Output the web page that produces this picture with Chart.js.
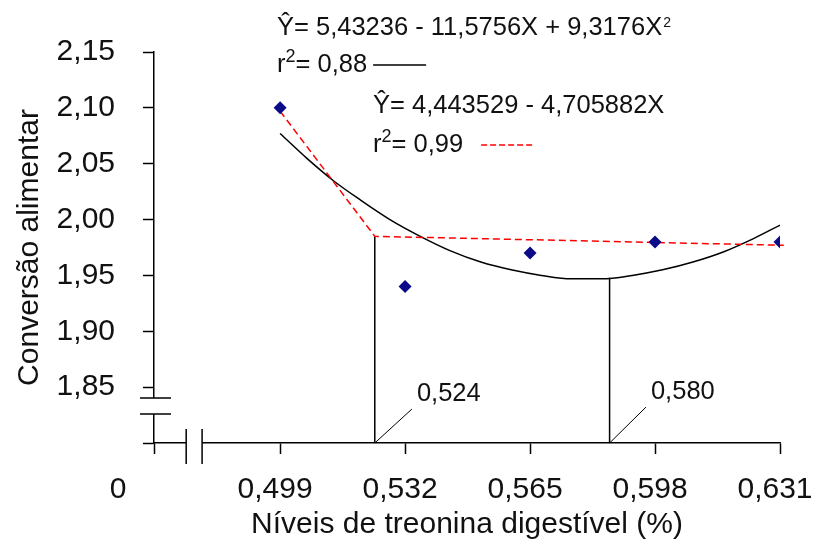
<!DOCTYPE html>
<html>
<head>
<meta charset="utf-8">
<script src="https://cdn.jsdelivr.net/npm/chart.js@4.4.0/dist/chart.umd.min.js"></script>
<style>
  body { margin: 0; background: #fff; }
  #chart { display: block; }
</style>
</head>
<body>
<canvas id="chart" width="817" height="544"></canvas>
<script>
// observed means
const levels = [0.499, 0.532, 0.565, 0.598, 0.631];
const conversion = [2.10, 1.94, 1.97, 1.98, 1.98];

// quadratic fit, values
const quadX = [0.499, 0.506, 0.513, 0.520, 0.528, 0.536, 0.544, 0.552, 0.560, 0.568, 0.576, 0.584, 0.592, 0.600, 0.608, 0.616, 0.624, 0.631];
const quadY = [2.077, 2.055, 2.035, 2.018, 2.000, 1.985, 1.972, 1.962, 1.955, 1.950, 1.947, 1.947, 1.950, 1.955, 1.962, 1.971, 1.983, 1.995];

// linear response plateau
const lrpX = [0.499, 0.524, 0.632];
const lrpY = [2.097, 1.985, 1.977];

// drop lines at the two estimates
const dropX = [0.524, 0.586];
const dropY = [1.985, 1.948];
const dropLabels = ['0,524', '0,580'];
// leader line ends
const leaderX = [0.5338, 0.5956];
const leaderY = [1.8304, 1.8321];

const xTicks = [0.4657, 0.499, 0.532, 0.565, 0.598, 0.631];
const xTickLabels = ['', '0,499', '0,532', '0,565', '0,598', '0,631'];
const yTicks = [1.80, 1.85, 1.90, 1.95, 2.00, 2.05, 2.10, 2.15];
const yTickLabels = ['', '1,85', '1,90', '1,95', '2,00', '2,05', '2,10', '2,15'];
const xBreak = [0.4742, 0.4784];
const yBreak = [1.8259, 1.8402];

// equation text, [text, superscript] pieces
const eqQuad = [['Ŷ= 5,43236 - 11,5756X + 9,3176X', 0], ['2', 1]];
const r2Quad = [['r', 0], ['2', 2], ['= 0,88', 0]];
const eqLin = [['Ŷ= 4,443529 - 4,705882X', 0]];
const r2Lin = [['r', 0], ['2', 2], ['= 0,99', 0]];

const FONT = '"Liberation Sans", Arial, sans-serif';
const xy = (xs, ys) => xs.map((v, i) => ({x: v, y: ys[i]}));

const baseY = yTicks[0];
const dropData = [];
dropX.forEach((v, i) => { dropData.push({x: v, y: baseY}, {x: v, y: dropY[i]}, {x: NaN, y: NaN}); });
const leaderData = [];
dropX.forEach((v, i) => { leaderData.push({x: v, y: baseY}, {x: leaderX[i], y: leaderY[i]}, {x: NaN, y: NaN}); });

// draws text with superscripts, returns the end x
function richText(ctx, parts, x, y) {
  parts.forEach(([t, sup]) => {
    if (sup === 1) { ctx.font = '14px ' + FONT; ctx.fillText(t, x + 1, y - 8); }
    else if (sup === 2) { ctx.font = '18px ' + FONT; ctx.fillText(t, x, y - 10); }
    else { ctx.font = '25.5px ' + FONT; ctx.fillText(t, x, y); }
    x += ctx.measureText(t).width + (sup === 1 ? 1 : 0);
  });
  return x;
}

const extras = {
  id: 'extras',
  afterDraw(chart) {
    const {ctx, scales: {x, y}} = chart;
    const ax = x.getPixelForValue(xTicks[0]);
    const ay = y.getPixelForValue(yTicks[0]);
    ctx.save();
    // axis breaks
    const yb0 = y.getPixelForValue(yBreak[1]), yb1 = y.getPixelForValue(yBreak[0]);
    const xb0 = x.getPixelForValue(xBreak[0]), xb1 = x.getPixelForValue(xBreak[1]);
    ctx.fillStyle = '#fff';
    ctx.fillRect(ax - 3, yb0, 6, yb1 - yb0);
    ctx.fillRect(xb0, ay - 3, xb1 - xb0, 6);
    ctx.strokeStyle = '#000';
    ctx.lineWidth = 1.5;
    ctx.beginPath();
    [yb0, yb1].forEach(py => { ctx.moveTo(ax - 14, py); ctx.lineTo(ax + 17, py); });
    [xb0, xb1].forEach(px => { ctx.moveTo(px, ay - 14); ctx.lineTo(px, ay + 21); });
    ctx.stroke();

    ctx.fillStyle = '#111';
    // origin label
    ctx.font = '30px ' + FONT;
    ctx.textAlign = 'center';
    ctx.textBaseline = 'middle';
    ctx.fillText('0', ax - 36, 490);

    // estimate labels
    ctx.font = '25.5px ' + FONT;
    ctx.textAlign = 'left';
    dropLabels.forEach((t, i) => {
      ctx.fillText(t, x.getPixelForValue(leaderX[i]) + 5, y.getPixelForValue(leaderY[i]) - 15);
    });

    // equations
    ctx.textBaseline = 'alphabetic';
    richText(ctx, eqQuad, 277, 35);
    let end = richText(ctx, r2Quad, 277, 72);
    richText(ctx, eqLin, 373, 113);
    const end2 = richText(ctx, r2Lin, 373, 152);
    ctx.lineWidth = 1.5;
    ctx.beginPath();
    ctx.moveTo(end + 6, 65); ctx.lineTo(end + 59, 65);
    ctx.stroke();
    ctx.strokeStyle = '#ff0000';
    ctx.setLineDash([6, 3]);
    ctx.beginPath();
    ctx.moveTo(end2 + 18, 145); ctx.lineTo(end2 + 71, 145);
    ctx.stroke();
    ctx.restore();
  }
};

new Chart(document.getElementById('chart'), {
  type: 'scatter',
  data: {
    datasets: [
      {
        data: xy(levels, conversion),
        pointStyle: 'rectRot',
        pointRadius: 6.5,
        backgroundColor: '#0b0b8a',
        borderColor: '#0b0b8a',
        borderWidth: 0
      },
      {
        data: xy(lrpX, lrpY),
        showLine: true,
        borderColor: '#ff0000',
        borderWidth: 1.5,
        borderDash: [7, 4],
        pointRadius: 0,
        clip: false
      },
      {
        data: xy(quadX, quadY),
        showLine: true,
        borderColor: '#000',
        borderWidth: 1.5,
        cubicInterpolationMode: 'monotone',
        pointRadius: 0
      },
      {
        data: dropData,
        showLine: true,
        spanGaps: false,
        borderColor: '#000',
        borderWidth: 1.5,
        pointRadius: 0,
        clip: false
      },
      {
        data: leaderData,
        showLine: true,
        spanGaps: false,
        borderColor: '#000',
        borderWidth: 1,
        pointRadius: 0,
        clip: false
      }
    ]
  },
  options: {
    responsive: false,
    animation: false,
    devicePixelRatio: 1,
    layout: {padding: {left: 0, right: 37, top: 52, bottom: 0}},
    plugins: {legend: {display: false}, tooltip: {enabled: false}},
    scales: {
      x: {
        type: 'linear',
        min: xTicks[0],
        max: xTicks[xTicks.length - 1],
        afterBuildTicks: s => { s.ticks = xTicks.map(v => ({value: v})); },
        afterFit: s => { s.height = 101; s.paddingLeft = 0; s.paddingRight = 0; },
        grid: {drawOnChartArea: false, tickLength: 11, tickColor: '#000', tickWidth: 1.5},
        border: {display: true, color: '#000', width: 1.5},
        ticks: {
          autoSkip: false, maxRotation: 0, padding: 18, labelOffset: -5,
          color: '#111', font: {family: FONT, size: 30},
          callback: (v, i) => xTickLabels[i]
        },
        title: {display: true, text: 'Níveis de treonina digestível (%)', color: '#111',
          font: {family: FONT, size: 30}, padding: {top: 0, bottom: 1}}
      },
      y: {
        type: 'linear',
        min: yTicks[0],
        max: yTicks[yTicks.length - 1],
        afterBuildTicks: s => { s.ticks = yTicks.map(v => ({value: v})); },
        afterFit: s => { s.width = 154; s.paddingTop = 0; s.paddingBottom = 0; },
        grid: {drawOnChartArea: false, tickLength: 11, tickColor: '#000', tickWidth: 1.5},
        border: {display: true, color: '#000', width: 1.5},
        ticks: {
          autoSkip: false, padding: 28,
          color: '#111', font: {family: FONT, size: 30},
          callback: (v, i) => yTickLabels[i]
        },
        title: {display: true, text: 'Conversão alimentar', color: '#111',
          font: {family: FONT, size: 30}, padding: {top: 12, bottom: 0}}
      }
    }
  },
  plugins: [extras]
});
</script>
</body>
</html>
